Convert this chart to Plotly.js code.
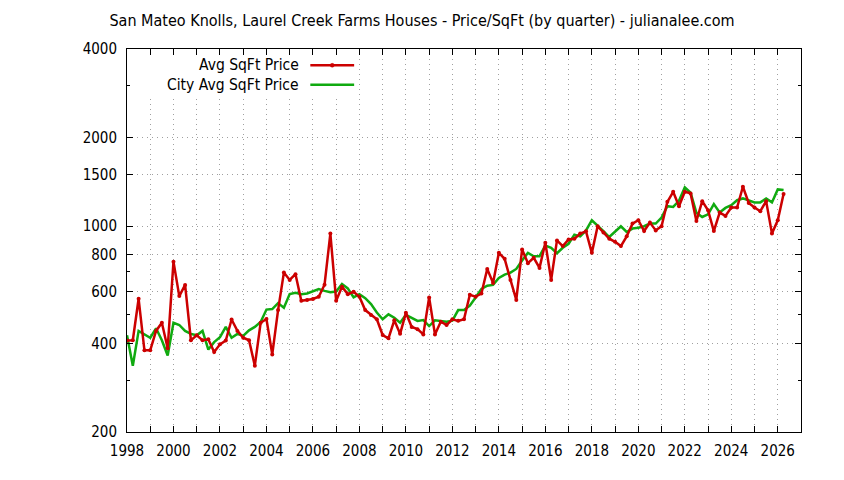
<!DOCTYPE html>
<html>
<head>
<meta charset="utf-8">
<script src="https://cdn.plot.ly/plotly-3.0.1.min.js"></script>
<style>
  body { margin: 0; background: #fff; }
  #chart { width: 844px; height: 480px; }
</style>
</head>
<body>
<div id="chart"></div>
<script>
// quarterly price per sqft, first quarter of 1998 onward
const START_YEAR = 1998;

const avgSqftPrice = [
  409, 410, 567, 379, 379, 441, 470, 385,
  758, 579, 632, 410, 426, 410, 413, 374,
  397, 409, 482, 441, 418, 410, 336, 470,
  484, 367, 519, 696, 657, 687, 558, 562,
  566, 576, 633, 944, 558, 623, 588, 599,
  576, 519, 499, 483, 427, 416, 479, 431,
  508, 455, 447, 429, 573, 429, 474, 462,
  483, 477, 483, 585, 576, 591, 716, 642,
  812, 775, 657, 562, 834, 749, 781, 722,
  879, 657, 895, 856, 902, 907, 944, 961,
  812, 1000, 952, 907, 885, 856, 924, 1021,
  1048, 963, 1029, 968, 1000, 1210, 1309, 1170,
  1309, 1293, 1042, 1217, 1133, 963, 1113, 1084,
  1158, 1158, 1362, 1200, 1158, 1125, 1217, 944,
  1048, 1286
];

const cityAvgSqftPrice = [
  426, 336, 441, 429, 418, 450, 410, 364,
  470, 462, 441, 431, 426, 441, 381, 404,
  420, 455, 418, 431, 424, 443, 455, 473,
  521, 523, 548, 529, 588, 594, 588, 591,
  600, 612, 603, 597, 600, 637, 615, 573,
  588, 570, 544, 509, 483, 502, 489, 470,
  500, 489, 477, 480, 458, 479, 476, 474,
  478, 519, 519, 537, 573, 612, 628, 632,
  667, 685, 696, 716, 765, 812, 791, 791,
  860, 845, 810, 845, 872, 936, 924, 968,
  1048, 1007, 962, 919, 956, 1000, 956, 982,
  988, 1000, 1021, 1021, 1070, 1170, 1163, 1220,
  1355, 1299, 1110, 1075, 1098, 1189, 1113, 1154,
  1179, 1226, 1243, 1226, 1205, 1205, 1243, 1205,
  1334, 1328
];

const yearTicks = [
  1998, 1999, 2000, 2001, 2002, 2003, 2004, 2005, 2006, 2007,
  2008, 2009, 2010, 2011, 2012, 2013, 2014, 2015, 2016, 2017,
  2018, 2019, 2020, 2021, 2022, 2023, 2024, 2025, 2026
];
const yearLabels = yearTicks.map(y => (y % 2 === 0 ? String(y) : ''));

const priceTicks = [200, 400, 600, 800, 1000, 1500, 2000, 4000];
const priceMinorTicks = [300, 500, 700, 900, 3000];

const quarters = avgSqftPrice.map((_, i) => START_YEAR + i / 4);

const FONT = 'DejaVu Sans Condensed, DejaVu Sans, sans-serif';
const RED = '#cc0000';
const GREEN = '#10aa10';
const GRID = '#a0a0a0';

const avgTrace = {
  x: quarters,
  y: avgSqftPrice,
  type: 'scatter',
  mode: 'lines+markers',
  name: 'Avg SqFt Price',
  line: { color: RED, width: 2.5 },
  marker: { color: RED, size: 4, symbol: 'circle' }
};

const cityTrace = {
  x: quarters,
  y: cityAvgSqftPrice,
  type: 'scatter',
  mode: 'lines',
  name: 'City Avg SqFt Price',
  line: { color: GREEN, width: 2.5 }
};

// gnuplot style key: text on the left, sample on the right
const keyRows = [
  { label: 'Avg SqFt Price', color: RED, y: 0.9575, dot: true },
  { label: 'City Avg SqFt Price', color: GREEN, y: 0.9065, dot: false }
];

const shapes = [{
  type: 'rect', xref: 'paper', yref: 'paper',
  x0: 0.02, x1: 0.343, y0: 0.875, y1: 0.978,
  fillcolor: '#ffffff', line: { width: 0 }, layer: 'above'
}];
const annotations = [];

keyRows.forEach(row => {
  annotations.push({
    xref: 'paper', yref: 'paper', x: 0.2585, y: row.y,
    xanchor: 'right', yanchor: 'middle', showarrow: false,
    text: row.label, font: { family: FONT, size: 15.5, color: '#000' }
  });
  shapes.push({
    type: 'line', xref: 'paper', yref: 'paper',
    x0: 0.272, x1: 0.337, y0: row.y, y1: row.y,
    line: { color: row.color, width: 2.5 }, layer: 'above'
  });
  if (row.dot) {
    shapes.push({
      type: 'circle', xref: 'paper', yref: 'paper',
      x0: 0.3045 - 0.003, x1: 0.3045 + 0.003,
      y0: row.y - 0.005, y1: row.y + 0.005,
      fillcolor: row.color, line: { color: row.color, width: 0.5 }, layer: 'above'
    });
  }
});

const layout = {
  width: 844,
  height: 480,
  paper_bgcolor: '#ffffff',
  plot_bgcolor: '#ffffff',
  showlegend: false,
  margin: { t: 49, l: 127, r: 43, b: 48 },
  font: { family: FONT, size: 15, color: '#000' },
  title: {
    text: 'San Mateo Knolls, Laurel Creek Farms Houses - Price/SqFt (by quarter) - julianalee.com',
    font: { family: FONT, size: 16, color: '#000' },
    x: 0.5, xref: 'container', xanchor: 'center',
    y: 0.958, yref: 'container', yanchor: 'middle'
  },
  xaxis: {
    range: [1998, 2027],
    tickmode: 'array',
    tickvals: yearTicks,
    ticktext: yearLabels,
    ticks: 'inside',
    ticklen: 6,
    tickcolor: '#000',
    ticklabelstandoff: 5,
    showline: true,
    linecolor: '#000',
    linewidth: 1,
    mirror: 'allticks',
    showgrid: true,
    gridcolor: GRID,
    griddash: '1px,4px',
    gridwidth: 1,
    zeroline: false
  },
  yaxis: {
    type: 'log',
    range: [Math.log10(200), Math.log10(4000)],
    tickmode: 'array',
    tickvals: priceTicks,
    ticktext: priceTicks.map(String),
    ticks: 'inside',
    ticklen: 6,
    tickcolor: '#000',
    ticklabelstandoff: 6,
    showline: true,
    linecolor: '#000',
    linewidth: 1,
    mirror: 'allticks',
    showgrid: true,
    gridcolor: GRID,
    griddash: '1px,4px',
    gridwidth: 1,
    zeroline: false,
    minor: {
      tickmode: 'array',
      tickvals: priceMinorTicks,
      ticks: 'inside',
      ticklen: 3,
      tickcolor: '#000',
      showgrid: false
    }
  },
  shapes: shapes,
  annotations: annotations
};

Plotly.newPlot('chart', [cityTrace, avgTrace], layout, { displayModeBar: false, staticPlot: true });
</script>
</body>
</html>
